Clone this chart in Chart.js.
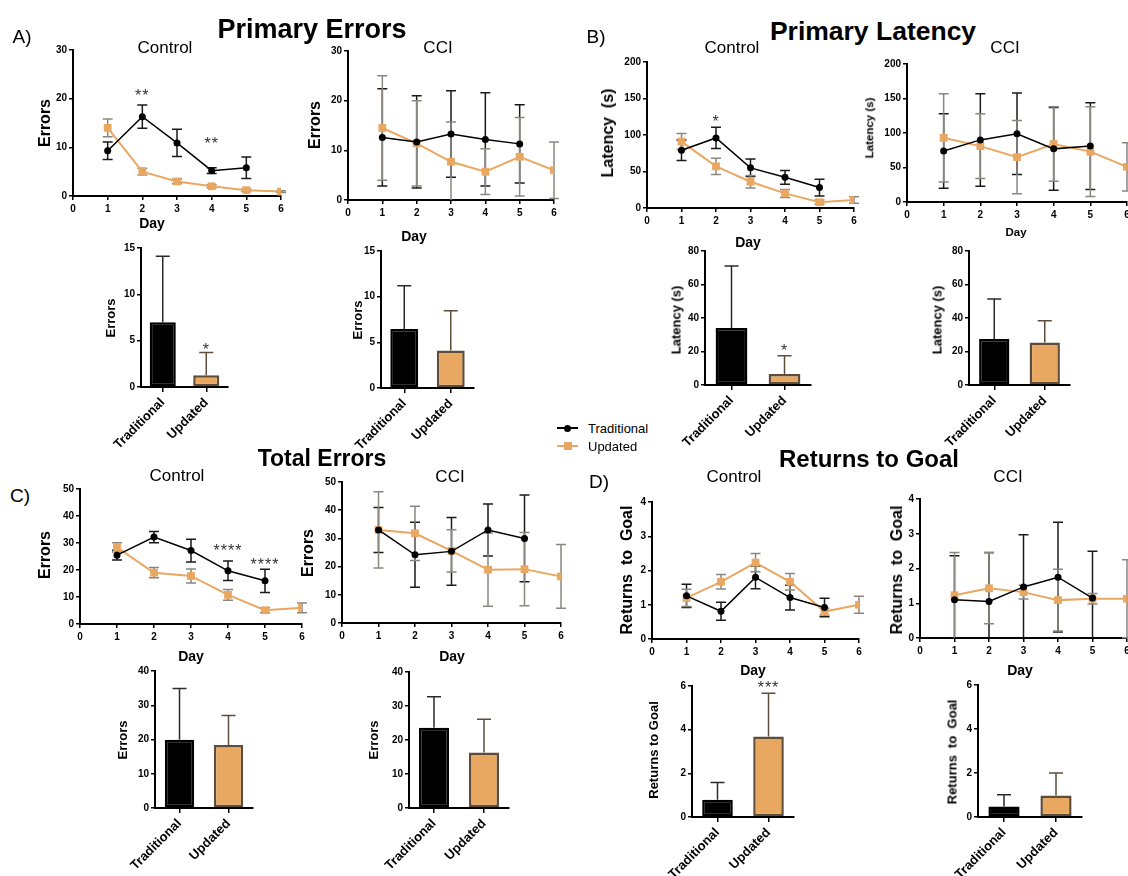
<!DOCTYPE html>
<html>
<head>
<meta charset="utf-8">
<script src="https://cdn.jsdelivr.net/npm/chart.js@4"></script>
<style>
  body { margin: 0; width: 1128px; height: 876px; overflow: hidden; background: #fff; position: relative;
         font-family: 'Liberation Sans', Arial, sans-serif; }
  canvas { position: absolute; }
  .t { position: absolute; white-space: pre; color: #000; transform: translate(-50%, -50%); line-height: 1; }
  .rot { transform: translate(-50%, -50%) rotate(-90deg); }
</style>
</head>
<body>
<script>
// ---- data ----
const days = [1, 2, 3, 4, 5, 6];
const groups = ["Traditional", "Updated"];

// A) Primary Errors - per day (mean, error)
const peCtrlTrad = [9.3, 16.3, 10.9, 5.2, 5.8];
const peCtrlTradErr = [1.8, 2.4, 2.8, 0.6, 2.2];
const peCtrlUpd = [14.0, 5.0, 3.0, 2.0, 1.2, 0.9];
const peCtrlUpdErr = [1.8, 0.7, 0.5, 0.3, 0.25, 0.2];
const peCciTrad = [12.6, 11.7, 13.3, 12.2, 11.3];
const peCciTradErr = [9.8, 9.3, 8.7, 9.4, 7.9];
const peCciUpd = [14.5, 11.4, 7.7, 5.7, 8.7, 6.0];
const peCciUpdErr = [10.5, 8.6, 8.0, 4.6, 7.9, 5.7];
// A) totals (bars)
const peCtrlBar = [7.0, 1.26];
const peCtrlBarErr = [7.1, 2.45];
const peCciBar = [6.45, 4.1];
const peCciBarErr = [4.75, 4.35];

// B) Primary Latency
const plCtrlTrad = [79, 96, 55, 42, 28];
const plCtrlTradErr = [14, 14.5, 12, 9.5, 11.5];
const plCtrlUpd = [91, 57, 36, 20, 8, 11];
const plCtrlUpdErr = [11, 11, 8.5, 5.5, 3, 4.5];
const plCciTrad = [74, 90, 99, 77, 81];
const plCciTradErr = [54, 67, 59, 60, 63];
const plCciUpd = [93, 81, 65, 84, 73, 51];
const plCciUpdErr = [64, 47, 53, 54, 65, 35];
const plCtrlBar = [34.1, 6.5];
const plCtrlBarErr = [37.0, 11.0];
const plCciBar = [27.5, 25.3];
const plCciBarErr = [23.8, 13.1];

// C) Total Errors
const teCtrlTrad = [25.5, 32.2, 27.2, 19.7, 16.0];
const teCtrlTradErr = [1.8, 2.1, 4.2, 3.6, 4.3];
const teCtrlUpd = [28.4, 19.0, 17.8, 10.8, 5.1, 6.0];
const teCtrlUpdErr = [1.7, 1.9, 2.6, 2.0, 0.9, 1.8];
const teCciTrad = [33.0, 24.2, 25.4, 33.0, 30.0];
const teCciTradErr = [8.0, 11.5, 12.0, 9.2, 15.4];
const teCciUpd = [33.0, 31.8, 25.6, 18.9, 19.1, 16.5];
const teCciUpdErr = [13.5, 9.6, 7.5, 13.0, 13.0, 11.3];
const teCtrlBar = [19.9, 18.4];
const teCtrlBarErr = [15.0, 8.6];
const teCciBar = [23.6, 16.3];
const teCciBarErr = [9.1, 9.8];

// D) Returns to Goal
const rgCtrlTrad = [1.26, 0.81, 1.80, 1.21, 0.92];
const rgCtrlTradErr = [0.34, 0.26, 0.33, 0.36, 0.27];
const rgCtrlUpd = [1.20, 1.67, 2.23, 1.67, 0.80, 1.00];
const rgCtrlUpdErr = [0.25, 0.21, 0.27, 0.24, 0.1, 0.25];
const rgCciTrad = [1.10, 1.05, 1.47, 1.75, 1.15];
const rgCciTradErr = [1.27, 1.41, 1.5, 1.58, 1.35];
const rgCciUpd = [1.23, 1.43, 1.32, 1.09, 1.13, 1.13];
const rgCciUpdErr = [1.23, 1.02, 0.2, 0.89, 0.15, 1.12];
const rgCtrlBar = [0.79, 3.69];
const rgCtrlBarErr = [0.79, 1.98];
const rgCciBar = [0.48, 0.98];
const rgCciBarErr = [0.53, 1.02];

// significance marks (x = day or bar index, y = value at the mark)
const peCtrlStars = [{x: 2, y: 21.4, t: "**"}, {x: 4, y: 11.5, t: "**"}];
const peBarStars = [{x: 1, y: 4.4, t: "*"}];
const plCtrlStars = [{x: 2, y: 123.5, t: "*"}];
const plBarStars = [{x: 1, y: 22.8, t: "*"}];
const teCtrlStars = [{x: 4, y: 28.4, t: "****"}, {x: 5, y: 23.3, t: "****"}];
const rgBarStars = [{x: 1, y: 6.12, t: "***"}];

// ---- drawing ----
const FONT = "'Liberation Sans', Arial, sans-serif";
const ORANGE = "#E9A862";
const BROWN = "#5E4D3B";
const YW = 40, PT = 14, PR = 12;

Chart.defaults.font.family = FONT;
Chart.defaults.color = "#000";

const errorBars = {
  id: "errorBars",
  draw(chart) {
    const ctx = chart.ctx, ys = chart.scales.y;
    chart.data.datasets.forEach((ds, di) => {
      if (!ds.err) return;
      const meta = chart.getDatasetMeta(di);
      meta.data.forEach((el, i) => {
        const raw = ds.data[i];
        const v = typeof raw === "object" ? raw.y : raw;
        const e = ds.err[i];
        if (v == null || e == null) return;
        const x = el.x, w = ds.capW;
        const yHi = ys.getPixelForValue(v + e);
        const lowClip = v - e <= 0;
        const yLo = ds.upOnly ? ys.getPixelForValue(v) : ys.getPixelForValue(Math.max(v - e, 0));
        ctx.save();
        ctx.strokeStyle = Array.isArray(ds.errColor) ? ds.errColor[i] : ds.errColor;
        ctx.lineWidth = 1.5;
        ctx.beginPath();
        ctx.moveTo(x, yHi); ctx.lineTo(x, yLo);
        ctx.moveTo(x - w, yHi); ctx.lineTo(x + w, yHi);
        if (!ds.upOnly && !lowClip) { ctx.moveTo(x - w, yLo); ctx.lineTo(x + w, yLo); }
        ctx.stroke();
        ctx.restore();
      });
    });
  },
  beforeDatasetsDraw(chart) { if (chart.config.type === "line") this.draw(chart); },
  afterDatasetsDraw(chart) { if (chart.config.type === "bar") this.draw(chart); }
};

const stars = {
  id: "stars",
  afterDraw(chart, args, opts) {
    if (!opts.list || !opts.list.length) return;
    const ctx = chart.ctx, size = 16;
    ctx.save();
    ctx.font = size + "px " + FONT;
    ctx.fillStyle = "#333";
    ctx.textAlign = "center";
    ctx.letterSpacing = "1px";
    opts.list.forEach(s => {
      const x = chart.scales.x.getPixelForValue(s.x);
      const y = chart.scales.y.getPixelForValue(s.y);
      ctx.fillText(s.t, x, y + 0.57 * size);
    });
    ctx.restore();
  }
};
Chart.register(errorBars, stars);

function makeCanvas(box, xh) {
  const c = document.createElement("canvas");
  c.width = box.r - box.l + YW + PR;
  c.height = box.b - box.t + PT + xh;
  c.style.left = (box.l - YW) + "px";
  c.style.top = (box.t - PT) + "px";
  document.body.appendChild(c);
  return c;
}

function axisStyle(size) {
  return {
    ticks: { color: "#000", font: { size: size, weight: "bold" }, padding: 3 },
    grid: { drawOnChartArea: false, drawTicks: true, tickLength: 4, color: "#000", lineWidth: 1.5 },
    border: { color: "#000", width: 2 }
  };
}

function yAxis(max, step) {
  const a = axisStyle(10);
  return Object.assign(a, {
    min: 0, max: max,
    ticks: Object.assign(a.ticks, { stepSize: step, padding: 2 }),
    afterFit: s => { s.width = YW; s.paddingTop = 0; s.paddingBottom = 0; }
  });
}

function baseOptions(xScale, yScale, starList) {
  return {
    responsive: false, animation: false, events: [],
    layout: { padding: { top: PT, right: PR, left: 0, bottom: 0 } },
    plugins: { legend: { display: false }, tooltip: { enabled: false }, stars: { list: starList || [] } },
    scales: { x: xScale, y: yScale }
  };
}

function lineChart(box, yMax, yStep, trad, tradErr, upd, updErr, starList) {
  const c = makeCanvas(box, 22);
  const pts = vals => vals.map((v, i) => ({ x: days[i], y: v }));
  const xs = axisStyle(10);
  xs.type = "linear"; xs.min = 0; xs.max = 6;
  xs.ticks.stepSize = 1;
  xs.afterFit = s => { s.height = 22; s.paddingLeft = 0; s.paddingRight = 0; };
  new Chart(c, {
    type: "line",
    data: {
      datasets: [
        { label: "Traditional", data: pts(trad), err: tradErr, errColor: "#1a1a1a", capW: 5,
          borderColor: "#000", backgroundColor: "#000", borderWidth: 1.5,
          pointStyle: "circle", pointRadius: 3.5, pointBorderWidth: 0 },
        { label: "Updated", data: pts(upd), err: updErr, errColor: "#8c8680", capW: 5,
          borderColor: ORANGE, backgroundColor: ORANGE, borderWidth: 2,
          pointStyle: "rect", pointRadius: 5.5, pointBorderWidth: 0 }
      ]
    },
    options: baseOptions(xs, yAxis(yMax, yStep), starList)
  });
}

function barChart(box, yMax, yStep, means, errs, starList) {
  const c = makeCanvas(box, 80);
  const xs = axisStyle(13);
  xs.type = "category";
  xs.ticks.minRotation = 45; xs.ticks.maxRotation = 45;
  xs.grid.offset = false; xs.grid.tickLength = 5;
  xs.afterFit = s => { s.height = 80; s.paddingLeft = 0; s.paddingRight = 0; };
  new Chart(c, {
    type: "bar",
    data: {
      labels: groups,
      datasets: [{
        data: means, err: errs, upOnly: true, capW: 7, errColor: ["#2a2a2a", BROWN],
        backgroundColor: ["#000", ORANGE], borderColor: ["#000", BROWN], borderWidth: 2.5,
        borderSkipped: false, barPercentage: 0.6, categoryPercentage: 1
      }]
    },
    options: baseOptions(xs, yAxis(yMax, yStep), starList)
  });
}

// line charts (plot-area boxes)
lineChart({ l: 73, t: 50, r: 281, b: 196 }, 30, 10, peCtrlTrad, peCtrlTradErr, peCtrlUpd, peCtrlUpdErr, peCtrlStars);
lineChart({ l: 348, t: 51, r: 554, b: 200 }, 30, 10, peCciTrad, peCciTradErr, peCciUpd, peCciUpdErr);
lineChart({ l: 647, t: 62, r: 854, b: 208 }, 200, 50, plCtrlTrad, plCtrlTradErr, plCtrlUpd, plCtrlUpdErr, plCtrlStars);
lineChart({ l: 907, t: 64, r: 1127, b: 202 }, 200, 50, plCciTrad, plCciTradErr, plCciUpd, plCciUpdErr);
lineChart({ l: 80, t: 489, r: 302, b: 624 }, 50, 10, teCtrlTrad, teCtrlTradErr, teCtrlUpd, teCtrlUpdErr, teCtrlStars);
lineChart({ l: 342, t: 482, r: 561, b: 623 }, 50, 10, teCciTrad, teCciTradErr, teCciUpd, teCciUpdErr);
lineChart({ l: 652, t: 502, r: 859, b: 639 }, 4, 1, rgCtrlTrad, rgCtrlTradErr, rgCtrlUpd, rgCtrlUpdErr);
lineChart({ l: 920, t: 499, r: 1127, b: 638 }, 4, 1, rgCciTrad, rgCciTradErr, rgCciUpd, rgCciUpdErr);

// bar charts
barChart({ l: 141, t: 248, r: 228, b: 387 }, 15, 5, peCtrlBar, peCtrlBarErr, peBarStars);
barChart({ l: 381, t: 251, r: 474, b: 388 }, 15, 5, peCciBar, peCciBarErr);
barChart({ l: 705, t: 251, r: 811, b: 385 }, 80, 20, plCtrlBar, plCtrlBarErr, plBarStars);
barChart({ l: 969, t: 251, r: 1070, b: 385 }, 80, 20, plCciBar, plCciBarErr);
barChart({ l: 155, t: 671, r: 253, b: 808 }, 40, 10, teCtrlBar, teCtrlBarErr);
barChart({ l: 409, t: 672, r: 509, b: 808 }, 40, 10, teCciBar, teCciBarErr);
barChart({ l: 692, t: 686, r: 794, b: 817 }, 6, 2, rgCtrlBar, rgCtrlBarErr, rgBarStars);
barChart({ l: 978, t: 685, r: 1082, b: 817 }, 6, 2, rgCciBar, rgCciBarErr);

// ---- text ----
function txt(s, x, y, size, bold, rot) {
  const d = document.createElement("div");
  d.className = "t" + (rot ? " rot" : "");
  d.textContent = s;
  d.style.left = x + "px";
  d.style.top = y + "px";
  d.style.fontSize = size + "px";
  d.style.fontWeight = bold ? "bold" : "normal";
  document.body.appendChild(d);
}

txt("Primary Errors", 312, 29, 27, true);
txt("Primary Latency", 873, 31, 26.5, true);
txt("Total Errors", 322, 458, 23, true);
txt("Returns to Goal", 869, 459, 24, true);

txt("A)", 22, 36, 19); txt("B)", 596, 36, 19); txt("C)", 20, 495, 19); txt("D)", 599, 481, 19);

txt("Control", 165, 47, 17); txt("CCI", 438, 47, 17);
txt("Control", 732, 47, 17); txt("CCI", 1005, 47, 17);
txt("Control", 177, 475, 17); txt("CCI", 450, 476, 17);
txt("Control", 734, 476, 17); txt("CCI", 1008, 476, 17);

txt("Day", 152, 223, 14, true); txt("Day", 414, 236, 14, true);
txt("Day", 748, 242, 14, true); txt("Day", 1016, 233, 11.5, true);
txt("Day", 191, 656, 14, true); txt("Day", 452, 656, 14, true);
txt("Day", 753, 670, 14, true); txt("Day", 1020, 670, 14, true);

txt("Errors", 45, 123, 16, true, 1); txt("Errors", 315, 125, 16, true, 1);
txt("Latency  (s)", 608, 133, 16, true, 1); txt("Latency (s)", 870, 128, 11.5, true, 1);
txt("Errors", 110, 318, 13, true, 1); txt("Errors", 357, 320, 13, true, 1);
txt("Latency (s)", 676, 320, 13, true, 1); txt("Latency (s)", 937, 320, 13, true, 1);
txt("Errors", 45, 555, 16, true, 1); txt("Errors", 308, 553, 16, true, 1);
txt("Returns  to  Goal", 627, 570, 16, true, 1); txt("Returns  to  Goal", 897, 570, 16, true, 1);
txt("Errors", 122, 740, 13, true, 1); txt("Errors", 373, 740, 13, true, 1);
txt("Returns to Goal", 653, 750, 13, true, 1); txt("Returns  to  Goal", 952, 752, 13, true, 1);

// legend
function legendRow(y, color, square, label) {
  const line = document.createElement("div");
  line.style.cssText = `position:absolute;left:557px;top:${y - 1}px;width:21px;height:2px;background:${color}`;
  document.body.appendChild(line);
  const m = document.createElement("div");
  const sz = square ? 8 : 7;
  m.style.cssText = `position:absolute;left:${567.5 - sz / 2}px;top:${y - sz / 2}px;width:${sz}px;height:${sz}px;background:${color};border-radius:${square ? 0 : 50}%`;
  document.body.appendChild(m);
  const t = document.createElement("div");
  t.className = "t";
  t.style.cssText = `left:588px;top:${y}px;font-size:13px;transform:translate(0,-50%)`;
  t.textContent = label;
  document.body.appendChild(t);
}
legendRow(428, "#000", false, "Traditional");
legendRow(446, ORANGE, true, "Updated");
</script>
</body>
</html>
